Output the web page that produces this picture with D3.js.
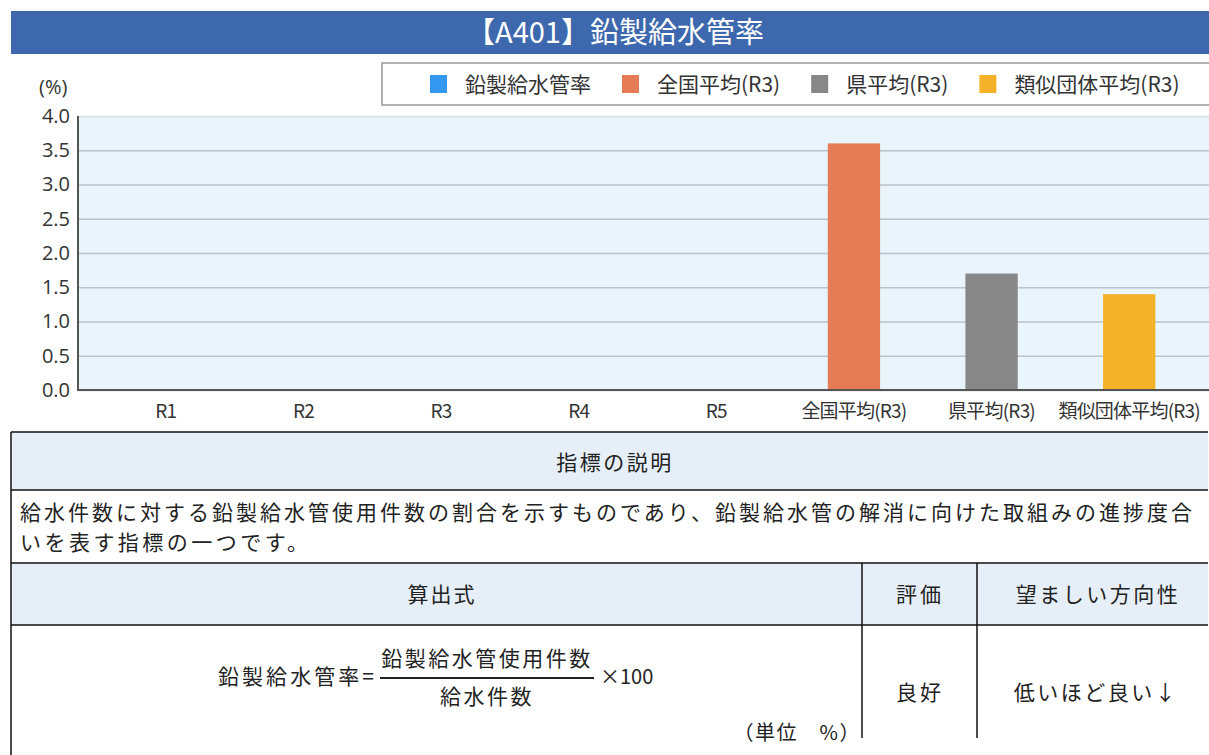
<!DOCTYPE html>
<meta charset="utf-8">
<style>
body { margin: 0; background: #fff; }
svg { display: block; }
text { font-family: "Noto Sans CJK JP", "Noto Sans", sans-serif; fill: #333; }
.tick text { font-family: "Open Sans", "Noto Sans", sans-serif; }
</style>
<svg class="chart" width="1209" height="755"></svg>
<script src="https://cdn.jsdelivr.net/npm/d3@7"></script>
<script>

// data
var categories = ["R1", "R2", "R3", "R4", "R5", "全国平均(R3)", "県平均(R3)", "類似団体平均(R3)"];
var years = ["R1", "R2", "R3", "R4", "R5"];
var leadRate = [0, 0, 0, 0, 0];
var averageNames = ["全国平均(R3)", "県平均(R3)", "類似団体平均(R3)"];
var averageValues = [3.6, 1.7, 1.4];
var seriesNames = ["鉛製給水管率", "全国平均(R3)", "県平均(R3)", "類似団体平均(R3)"];
var seriesColors = ["#3399f0", "#e67c55", "#878787", "#f4b22b"];
var yTicks = [0, 0.5, 1.0, 1.5, 2.0, 2.5, 3.0, 3.5, 4.0];

var chart = d3.select(".chart");

// title bar
chart.append("rect")
  .attr("x", 11).attr("y", 11)
  .attr("width", 1198).attr("height", 43)
  .attr("fill", "#3d68ad");

chart.append("text")
  .attr("x", 615).attr("y", 33)
  .attr("dy", ".35em")
  .attr("text-anchor", "middle")
  .style("font-size", "29px")
  .style("fill", "#fff")
  .text("【A401】鉛製給水管率");

// scales
var x = d3.scaleBand()
  .domain(categories)
  .range([97, 1198])
  .paddingInner(0.62)
  .paddingOuter(0.31);

var y = d3.scaleLinear()
  .domain([0, 4])
  .range([390, 116]);

// plot background
chart.append("rect")
  .attr("x", 78).attr("y", y(4))
  .attr("width", 1209 - 78).attr("height", y(0) - y(4))
  .attr("fill", "#e9f4fb");

// y axis with gridlines
var yAxis = chart.append("g")
  .attr("class", "y-axis")
  .attr("transform", "translate(78,0)")
  .call(d3.axisLeft(y).tickValues(yTicks).tickFormat(d3.format(".1f")).tickSize(0).tickPadding(8));

yAxis.select(".domain").remove();
yAxis.selectAll("text").style("font-size", "20px").style("fill", "#333");

yAxis.selectAll(".tick").append("line")
  .attr("x2", 1209 - 78)
  .attr("stroke", function(d) { return d === 4 ? "#d3dde3" : "#b9c3c9"; })
  .attr("stroke-width", 1.5);

// x axis
var xAxis = chart.append("g")
  .attr("class", "x-axis")
  .attr("transform", "translate(0," + y(0) + ")")
  .call(d3.axisBottom(x).tickSize(0).tickPadding(15));

xAxis.select(".domain").remove();
xAxis.selectAll("text")
  .style("font-family", "'Noto Sans CJK JP', sans-serif")
  .style("font-size", "19px")
  .style("letter-spacing", "-0.8px")
  .style("fill", "#333");

// bars: yearly rate (all zero) and the comparison averages
chart.append("g").selectAll("rect")
  .data(years.map(function(c, i) { return { cat: c, value: leadRate[i], color: seriesColors[0] }; })
    .concat(averageNames.map(function(c, i) { return { cat: c, value: averageValues[i], color: seriesColors[i + 1] }; })))
  .enter().append("rect")
  .attr("x", function(d) { return x(d.cat); })
  .attr("y", function(d) { return y(d.value); })
  .attr("width", x.bandwidth())
  .attr("height", function(d) { return y(0) - y(d.value); })
  .attr("fill", function(d) { return d.color; });

// axis lines drawn on top
chart.append("line")
  .attr("x1", 78).attr("x2", 78)
  .attr("y1", y(4)).attr("y2", y(0) + 1)
  .attr("stroke", "#555").attr("stroke-width", 2);
chart.append("line")
  .attr("x1", 78).attr("x2", 1209)
  .attr("y1", y(0)).attr("y2", y(0))
  .attr("stroke", "#555").attr("stroke-width", 2);

// unit label
chart.append("text")
  .attr("x", 39).attr("y", 87)
  .attr("dy", ".35em")
  .style("font-family", "'Open Sans', sans-serif")
  .style("font-size", "20px")
  .text("(%)");

// legend
chart.append("rect")
  .attr("x", 382).attr("y", 63)
  .attr("width", 840).attr("height", 42)
  .attr("fill", "#fff")
  .attr("stroke", "#999").attr("stroke-width", 1.5);

var cursor = 430;
seriesNames.forEach(function(name, i) {
  chart.append("rect")
    .attr("x", cursor).attr("y", 75)
    .attr("width", 17).attr("height", 18)
    .attr("fill", seriesColors[i]);
  var label = chart.append("text")
    .attr("x", cursor + 35).attr("y", 85)
    .attr("dy", ".35em")
    .style("font-size", "21px")
    .text(name);
  cursor += 35 + label.node().getComputedTextLength() + 31;
});

// description table
var tableLeft = 11, tableRight = 1208;
var rows = [
  { top: 432, bottom: 490, header: true },
  { top: 490, bottom: 563, header: false },
  { top: 563, bottom: 625, header: true },
  { top: 625, bottom: 760, header: false }
];

var table = chart.append("g").attr("class", "table");

table.selectAll("rect.row")
  .data(rows)
  .enter().append("rect")
  .attr("class", "row")
  .attr("x", tableLeft).attr("y", function(d) { return d.top; })
  .attr("width", tableRight - tableLeft)
  .attr("height", function(d) { return d.bottom - d.top; })
  .attr("fill", function(d) { return d.header ? "#e6eef7" : "#fff"; });

// horizontal borders
table.selectAll("line.h")
  .data([432, 490, 563, 625])
  .enter().append("line")
  .attr("x1", tableLeft).attr("x2", tableRight)
  .attr("y1", function(d) { return d; }).attr("y2", function(d) { return d; })
  .attr("stroke", "#111").attr("stroke-width", 1.5);

// vertical borders
table.append("line")
  .attr("x1", tableLeft).attr("x2", tableLeft)
  .attr("y1", 432).attr("y2", 760)
  .attr("stroke", "#111").attr("stroke-width", 1.5);
[862, 977].forEach(function(cx) {
  table.append("line")
    .attr("x1", cx).attr("x2", cx)
    .attr("y1", 563).attr("y2", 738)
    .attr("stroke", "#111").attr("stroke-width", 1.5);
});

function cellText(x0, y0, txt, anchor, size, spacing, fitWidth) {
  var t = table.append("text")
    .attr("x", x0).attr("y", y0)
    .attr("dy", ".35em")
    .attr("text-anchor", anchor)
    .style("font-size", size + "px")
    .style("letter-spacing", spacing + "px")
    .style("fill", "#222")
    .text(txt);
  // stretch to the measured width of the reference
  if (fitWidth) t.attr("textLength", fitWidth).attr("lengthAdjust", "spacing");
  return t;
}

cellText(615, 463, "指標の説明", "middle", 21, 2.5);
cellText(20, 513, "給水件数に対する鉛製給水管使用件数の割合を示すものであり、鉛製給水管の解消に向けた取組みの進捗度合", "start", 21, 0, 1172);
cellText(20, 543, "いを表す指標の一つです。", "start", 21, 0, 288);
cellText(442, 595, "算出式", "middle", 21, 2);
cellText(920, 595, "評価", "middle", 21, 3);
cellText(1098, 595, "望ましい方向性", "middle", 21, 2.5);

// formula
cellText(218, 677, "鉛製給水管率=", "start", 21, 0, 156);
cellText(487, 659, "鉛製給水管使用件数", "middle", 21, 2.5);
table.append("line")
  .attr("x1", 380).attr("x2", 594)
  .attr("y1", 678).attr("y2", 678)
  .attr("stroke", "#222").attr("stroke-width", 2);
cellText(487, 697, "給水件数", "middle", 21, 2.5);
cellText(600, 677, "×100", "start", 20, 0);
cellText(861, 733, "（単位　%）", "end", 20, 1.5);

cellText(920, 693, "良好", "middle", 21, 3);
cellText(1096, 693, "低いほど良い↓", "middle", 21, 2.5);

</script>
